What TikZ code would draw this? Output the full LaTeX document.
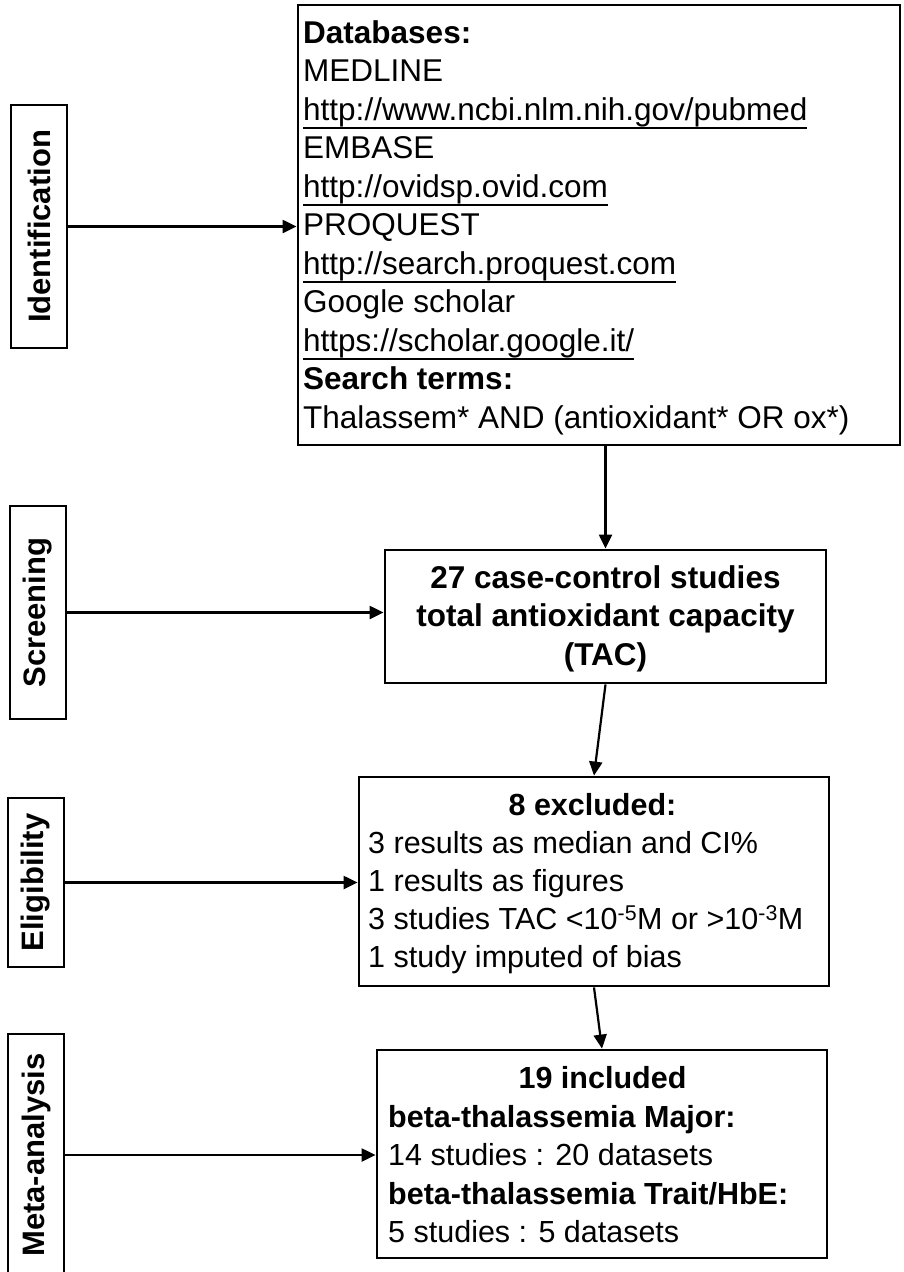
\documentclass[tikz,border=0pt]{standalone}
\usepackage{fontspec}
\setmainfont{Liberation Sans}
\usetikzlibrary{arrows.meta}
\newlength\ulwd
\newcommand\uln[1]{\settowidth\ulwd{#1}\rlap{\rule[-9pt]{\ulwd}{1.8pt}}#1}
\begin{document}
\begin{tikzpicture}[x=1pt,y=-1pt,
  box/.style={draw, line width=2.8pt, inner sep=0pt},
  lab/.style={draw, line width=2.8pt, inner sep=0pt, minimum width=56pt,
              font=\fontsize{31}{38}\selectfont\bfseries},
  con/.style={line width=2.2pt, -{Triangle[length=14pt,width=13pt]}},
  txt/.style={inner sep=0pt, anchor=base west},
  ctxt/.style={inner sep=0pt, anchor=base}
]
\useasboundingbox (0,0) rectangle (904,1272);
\clip (0,0) rectangle (904,1272);
\fill[white] (0,0) rectangle (904,1272);

% stage labels
\node[lab, minimum height=243pt] (id) at (39,226.5) {\rotatebox{90}{Identification}};
\node[lab, minimum height=213pt] (sc) at (38,612.5) {\rotatebox{90}{Screening}};
\node[lab, minimum height=169pt] (el) at (36,882.5) {\rotatebox{90}{Eligibility}};
\node[lab, minimum height=242pt] (ma) at (36,1155) {\rotatebox{90}{Meta-analysis}};

% main boxes
\node[box, minimum width=602pt, minimum height=440pt] (b1) at (599,225) {};
\node[box, minimum width=441pt, minimum height=133pt] (scr) at (605.5,616.5) {};
\node[box, minimum width=470pt, minimum height=209pt] (elig) at (594,881.5) {};
\node[box, minimum width=450pt, minimum height=208pt] (meta) at (602,1154) {};

% texts
\node[txt, font=\fontsize{31.5}{38.5}\selectfont] (t1) at (303,43) {%
\begin{tabular}[t]{@{}l@{}}
\textbf{Databases:}\\
MEDLINE\\
\uln{http://www.ncbi.nlm.nih.gov/pubmed}\\
EMBASE\\
\uln{http://ovidsp.ovid.com}\\
PROQUEST\\
\uln{http://search.proquest.com}\\
Google scholar\\
\uln{https://scholar.google.it/}\\
\textbf{Search terms:}\\
Thalassem* AND (antioxidant* OR ox*)
\end{tabular}};

\node[ctxt, font=\fontsize{31.5}{38.5}\selectfont\bfseries] (t2) at (605.5,588) {%
\begin{tabular}[t]{@{}c@{}}
27 case-control studies\\
total antioxidant capacity\\
(TAC)
\end{tabular}};

\node[ctxt, font=\fontsize{30.5}{38.3}\selectfont\bfseries] (h3) at (592.5,815) {8 excluded:};
\node[txt, font=\fontsize{30.5}{38.3}\selectfont] (t3) at (368,853) {%
\begin{tabular}[t]{@{}l@{}}
3 results as median and CI\%\\
1 results as figures\\
3 studies TAC <10\textsuperscript{-5}M or >10\textsuperscript{-3}M\\
1 study imputed of bias
\end{tabular}};

\node[ctxt, font=\fontsize{30.5}{38.5}\selectfont\bfseries] (h4) at (602.5,1088) {19 included};
\node[txt, font=\fontsize{30.5}{38.5}\selectfont] (t4) at (388,1127) {%
\begin{tabular}[t]{@{}l@{}}
\textbf{beta-thalassemia Major:}\\
14 studies : 20 datasets\\
\textbf{beta-thalassemia Trait/HbE:}\\
5 studies : 5 datasets
\end{tabular}};

% connectors
\draw[con] (id.east) -- (id.east -| b1.west);
\draw[con] (sc.east) -- (sc.east -| scr.west);
\draw[con] (el.east) -- (el.east -| elig.west);
\draw[con] (ma.east) -- (ma.east -| meta.west);
\draw[con] (scr.north |- b1.south) -- (scr.north);
\draw[con] (scr.south) -- (elig.north);
\draw[con] (elig.south) -- (meta.north);
\end{tikzpicture}
\end{document}
